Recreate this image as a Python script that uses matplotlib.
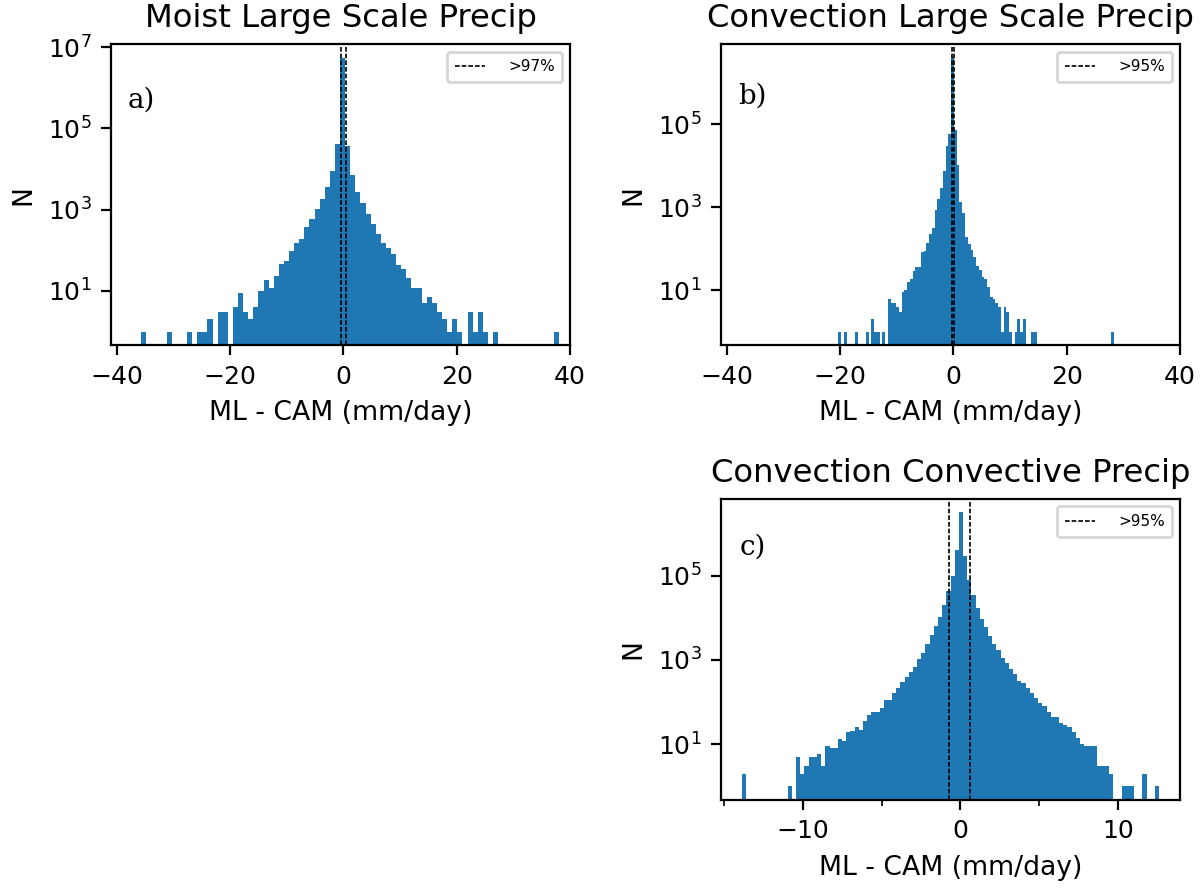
import matplotlib
matplotlib.use("Agg")
import matplotlib.pyplot as plt
import numpy as np
from matplotlib.ticker import MultipleLocator, NullLocator

# histogram bin ranges (lo, hi) and number of bins
a_range, a_nbins = (-35.68, 38.12), 82
b_range, b_nbins = (-20.29, 28.28), 100
c_range, c_nbins = (-13.88, 12.62), 100

# counts per bin
a_counts = [1, 0, 0, 0, 0, 1, 0, 0, 0, 1,
            0, 1, 1, 2, 0, 3, 3, 0, 4, 9,
            3, 2, 4, 10, 19, 12, 23, 47, 54, 94,
            153, 192, 372, 596, 1050, 1845, 3710, 8800, 40500, 5500000,
            37600, 7160, 2690, 1440, 790, 433, 255, 153, 113, 82,
            43, 35, 21, 12, 12, 5, 7, 5, 3, 2,
            1, 2, 1, 0, 3, 1, 3, 1, 0, 1,
            0, 0, 0, 0, 0, 0, 0, 0, 0, 0,
            0, 1]

b_counts = [1, 0, 1, 0, 0, 0, 1, 0, 0, 0,
            1, 0, 2, 1, 1, 0, 1, 0, 6, 5,
            5, 4, 3, 9, 10, 16, 19, 29, 37, 37,
            85, 90, 140, 224, 324, 870, 1580, 2900, 7400, 29600,
            60000, 4100000, 72000, 10800, 1320, 730, 195, 130, 94, 64,
            38, 30, 21, 19, 12, 7, 6, 5, 4, 1,
            4, 3, 1, 0, 1, 2, 1, 2, 0, 0,
            1, 1, 0, 0, 0, 0, 0, 0, 0, 0,
            0, 0, 0, 0, 0, 0, 0, 0, 0, 0,
            0, 0, 0, 0, 0, 0, 0, 0, 0, 1]

c_counts = [2, 0, 0, 0, 0, 0, 0, 0, 0, 0,
            0, 1, 0, 5, 2, 3, 5, 5, 6, 3,
            9, 8, 8, 13, 12, 19, 21, 26, 22, 36,
            49, 59, 59, 71, 112, 112, 162, 213, 300, 390,
            515, 690, 1030, 1480, 2410, 3800, 6300, 10300, 19900, 42800,
            100000, 398000, 3160000, 288000, 80000, 34000, 17000, 9500, 6000, 3660,
            2440, 1700, 1120, 856, 615, 470, 315, 287, 220, 162,
            127, 97, 81, 58, 43, 43, 31, 29, 26, 19,
            14, 10, 9, 9, 9, 3, 3, 3, 2, 0,
            0, 1, 1, 1, 0, 0, 2, 0, 0, 1]

# percentile thresholds (dashed lines)
a_pct = [-0.46, 0.42]
b_pct = [-0.30, 0.08]
c_pct = [-0.70, 0.62]

titles = ["Moist Large Scale Precip", "Convection Large Scale Precip",
          "Convection Convective Precip"]
pct_labels = [">97%", ">95%", ">95%"]
panel_tags = ["a)", "b)", "c)"]
tag_x = [-38, -38, -14]


fig, axes = plt.subplots(2, 2, figsize=(6.02, 4.45), dpi=200)
fig.subplots_adjust(left=0.0922, right=0.9801, top=0.9506, bottom=0.1011,
                    wspace=0.329, hspace=0.509)
axes[1, 0].axis('off')

panels = [(axes[0, 0], a_range, a_nbins, a_counts, a_pct),
          (axes[0, 1], b_range, b_nbins, b_counts, b_pct),
          (axes[1, 1], c_range, c_nbins, c_counts, c_pct)]

for k, (ax, rng, nb, counts, pct) in enumerate(panels):
    edges = np.linspace(rng[0], rng[1], nb + 1)
    centers = 0.5 * (edges[:-1] + edges[1:])
    ax.hist(centers, bins=edges, weights=counts, log=True, color='C0')
    for j, p in enumerate(pct):
        ax.axvline(p, color='k', ls=(0, (2.8, 1.2)), lw=0.6,
                   label=pct_labels[k] if j == 0 else None)
    ax.legend(loc='upper right', fontsize=5.5, handletextpad=1.5,
              borderpad=0.5)
    ax.set_title(titles[k], fontsize=11.6)
    ax.set_xlabel("ML - CAM (mm/day)", fontsize=9.6)
    ax.set_ylabel("N", fontsize=9.6)
    ax.tick_params(labelsize=9)
    ax.text(tag_x[k], 3.2e5, panel_tags[k], family='serif', fontsize=10)

axes[0, 0].set_xlim(-41, 40)
axes[0, 1].set_xlim(-41, 40)
axes[0, 0].set_yticks([1e1, 1e3, 1e5, 1e7])
axes[0, 1].set_yticks([1e1, 1e3, 1e5])
axes[1, 1].set_yticks([1e1, 1e3, 1e5])
axes[1, 1].xaxis.set_major_locator(MultipleLocator(10))
axes[1, 1].xaxis.set_minor_locator(MultipleLocator(5))
for ax in (axes[0, 0], axes[0, 1], axes[1, 1]):
    ax.yaxis.set_minor_locator(NullLocator())

fig.savefig("out.png", dpi=200)
